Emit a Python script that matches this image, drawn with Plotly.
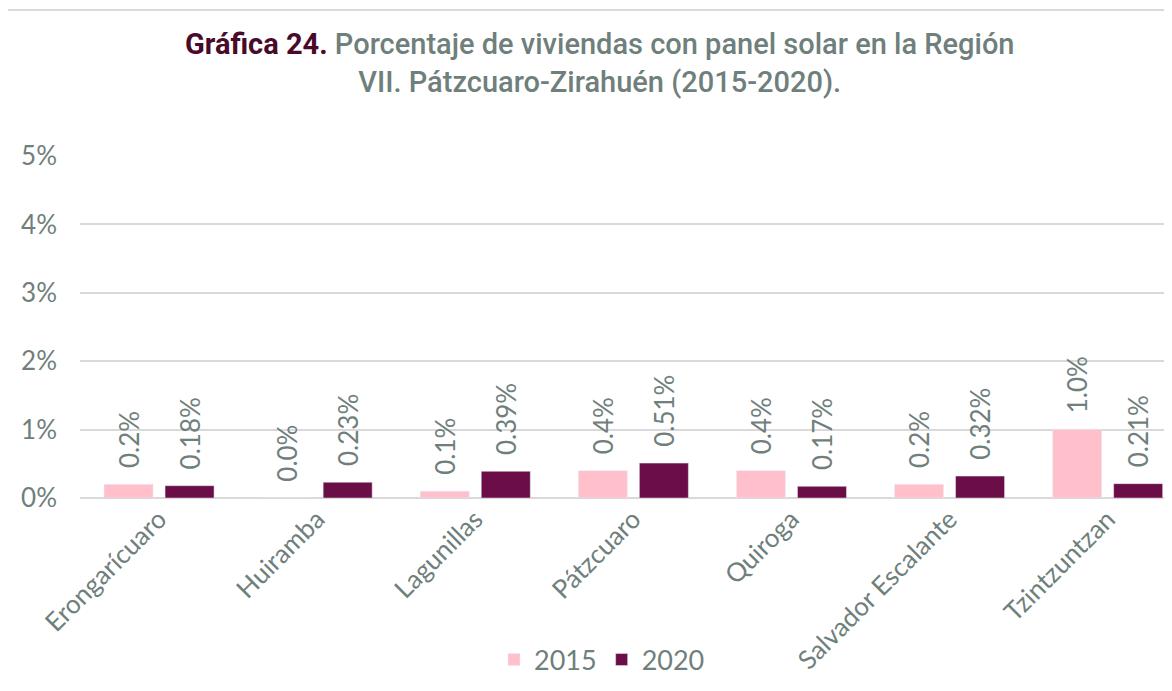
import plotly.graph_objects as go

categories = ["Erongarícuaro", "Huiramba", "Lagunillas", "Pátzcuaro", "Quiroga",
              "Salvador Escalante", "Tzintzuntzan"]
values_2015 = [0.2, 0.0, 0.1, 0.4, 0.4, 0.2, 1.0]
values_2020 = [0.18, 0.23, 0.39, 0.51, 0.17, 0.32, 0.21]
tick_vals = [0, 1, 2, 3, 4, 5]
tick_text = ["0%", "1%", "2%", "3%", "4%", "5%"]

GRAY = "#6f7f7c"
PINK = "#ffc0cb"
WINE = "#6b0d47"
FONT = "Lato"

OFF = 8  # page body margin
W, H = 1172 - OFF, 691 - OFF
L, R, T, B = 80 - OFF, 0, 156 - OFF, 193
pw, ph = W - L - R, H - T - B

def px_x(x):
    return (x - OFF - L) / pw

def px_y(y):
    return (H - B - (y - OFF)) / ph

fig = go.Figure()
fig.add_trace(go.Bar(
    name="2015", x=categories, y=values_2015, marker_color=PINK,
    texttemplate="\u00a0\u00a0%{y:.1f}%", textposition="outside", textangle=-90,
    constraintext="none",
    textfont=dict(color=GRAY, size=26, family=FONT), cliponaxis=False,
))
fig.add_trace(go.Bar(
    name="2020", x=categories, y=values_2020, marker_color=WINE,
    texttemplate="\u00a0\u00a0%{y:.2f}%", textposition="outside", textangle=-90,
    constraintext="none",
    textfont=dict(color=GRAY, size=26, family=FONT), cliponaxis=False,
))

fig.update_layout(
    width=W, height=H,
    margin=dict(l=L, r=R, t=T, b=B, autoexpand=False),
    paper_bgcolor="white", plot_bgcolor="white",
    barmode="group", bargap=0.228, bargroupgap=0.197,
    font=dict(family=FONT, color=GRAY),
    xaxis=dict(range=[-0.5, -0.5 + pw / 158.1], tickangle=-45,
               tickfont=dict(size=26, color=GRAY, family=FONT),
               showgrid=False, showline=False, ticks=""),
    yaxis=dict(range=[0, 5], tickmode="array", tickvals=tick_vals, ticktext=tick_text,
               tickfont=dict(size=26, color=GRAY, family=FONT),
               showgrid=True, gridcolor="#d9d9d9", gridwidth=2,
               zeroline=True, zerolinecolor="#d9d9d9", zerolinewidth=2,
               ticks="", ticklabelstandoff=22),
    legend=dict(orientation="h", x=px_x(602), xanchor="center",
                y=px_y(660), yanchor="middle",
                font=dict(size=27, color=GRAY, family=FONT),
                itemwidth=30, traceorder="normal"),
    showlegend=True,
    shapes=[dict(type="rect", xref="paper", yref="paper",
                 x0=px_x(6), x1=px_x(1190), y0=px_y(700), y1=px_y(10),
                 line=dict(color="#d9d9d9", width=2), fillcolor="rgba(0,0,0,0)",
                 layer="below")],
    annotations=[
        dict(xref="paper", yref="paper", x=px_x(600), y=px_y(63), xanchor="center", yanchor="middle",
             showarrow=False, align="center",
             text=("<span style='color:#4a0a2a;font-weight:700'>Gráfica 24.</span> "
                   "Porcentaje de viviendas con panel solar en la Región<br>"
                   "VII. Pátzcuaro-Zirahuén (2015-2020)."),
             font=dict(family="Roboto", size=29, color=GRAY, weight=500)),
    ],
)

fig.write_html("out.html")
